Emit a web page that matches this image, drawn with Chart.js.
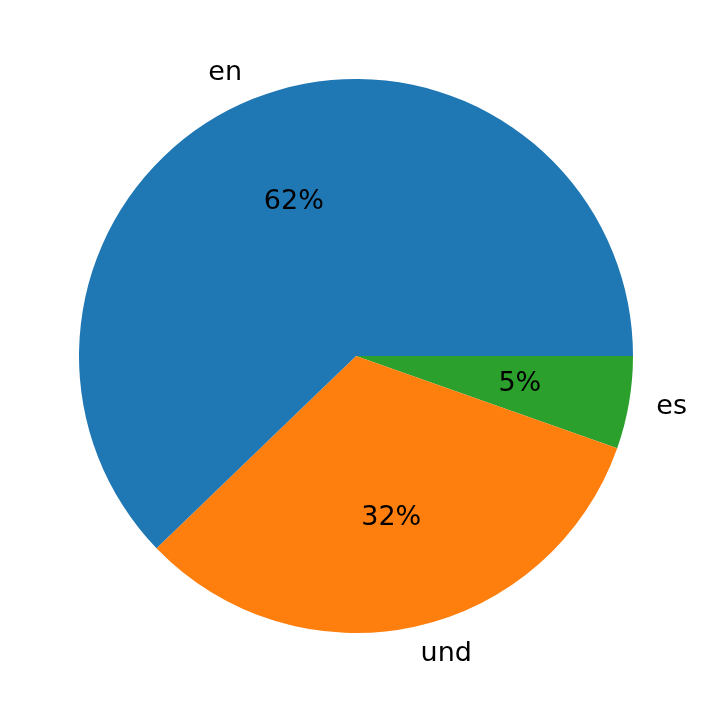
<!DOCTYPE html>
<html>
<head>
<meta charset="utf-8">
<script src="https://cdn.jsdelivr.net/npm/chart.js@4/dist/chart.umd.min.js"></script>
<style>
  html, body { margin: 0; padding: 0; background: #fff; }
  canvas { display: block; }
</style>
</head>
<body>
<canvas id="pie" width="712" height="713"></canvas>
<script>
// matplotlib draws counter-clockwise from east; Chart.js clockwise, so order is reversed
const labels = ['es', 'und', 'en'];
const shares = [5.4, 32.4, 62.2];
const percentLabels = ['5%', '32%', '62%'];
const colors = ['#2ca02c', '#ff7f0e', '#1f77b4'];

const pieLabels = {
  id: 'pieLabels',
  afterDraw(chart) {
    const ctx = chart.ctx;
    const meta = chart.getDatasetMeta(0);
    ctx.save();
    ctx.font = '27px "DejaVu Sans"';
    ctx.fillStyle = '#000';
    ctx.textBaseline = 'middle';
    meta.data.forEach((arc, i) => {
      const { x, y, startAngle, endAngle, outerRadius } = arc.getProps(['x', 'y', 'startAngle', 'endAngle', 'outerRadius'], true);
      const mid = (startAngle + endAngle) / 2;
      const cx = Math.cos(mid), cy = Math.sin(mid);
      ctx.textAlign = 'center';
      ctx.fillText(percentLabels[i], x + cx * outerRadius * 0.6, y + cy * outerRadius * 0.6);
      ctx.textAlign = cx >= 0 ? 'left' : 'right';
      ctx.fillText(labels[i], x + cx * outerRadius * 1.1, y + cy * outerRadius * 1.1);
    });
    ctx.restore();
  },
};

new Chart(document.getElementById('pie'), {
  type: 'pie',
  data: {
    labels,
    datasets: [{
      data: shares,
      backgroundColor: colors,
      borderWidth: 0,
    }],
  },
  options: {
    responsive: false,
    animation: false,
    rotation: 90,
    layout: { padding: { top: 79, bottom: 80, left: 79, right: 79 } },
    plugins: {
      legend: { display: false },
      tooltip: { enabled: false },
    },
  },
  plugins: [pieLabels],
});
</script>
</body>
</html>
